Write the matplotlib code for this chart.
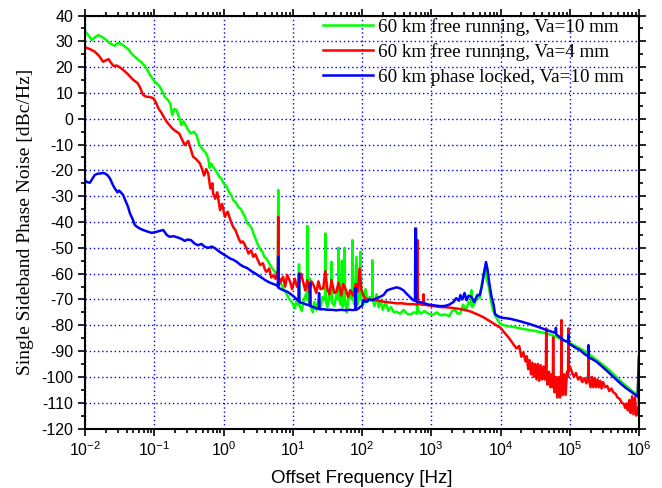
import numpy as np
import matplotlib
matplotlib.use('Agg')
import matplotlib.pyplot as plt
from matplotlib.ticker import MultipleLocator, LogLocator

# %% data: decade exponent of offset frequency, SSB phase noise [dBc/Hz]
green_dec = [-2.00, -1.97, -1.95, -1.90, -1.86, -1.81, -1.76, -1.71, -1.64, -1.57, -1.53, -1.49, -1.42, -1.37,
             -1.33, -1.28, -1.23, -1.18, -1.13, -1.09, -1.06, -0.99, -0.95, -0.92, -0.88, -0.85, -0.80, -0.77,
             -0.74, -0.71, -0.68, -0.64, -0.61, -0.58, -0.56, -0.52, -0.47, -0.43, -0.39, -0.35, -0.31, -0.26,
             -0.22, -0.20, -0.18, -0.14, -0.10, -0.06, -0.03, 0.00, 0.04, 0.08, 0.11, 0.14, 0.18, 0.21, 0.25,
             0.28, 0.31, 0.34, 0.37, 0.41, 0.44, 0.47, 0.50, 0.53, 0.56, 0.59, 0.62, 0.66, 0.69, 0.72, 0.76,
             0.785, 0.79, 0.795, 0.81, 0.84, 0.87, 0.91, 0.94, 0.97, 1.00,
             1.03, 1.06, 1.08, 1.09, 1.10, 1.13, 1.16, 1.19, 1.205, 1.21, 1.215, 1.24, 1.25, 1.26, 1.29, 1.31,
             1.34, 1.37, 1.40, 1.43, 1.465, 1.47, 1.475, 1.50, 1.53, 1.555, 1.56, 1.565, 1.60, 1.63, 1.655,
             1.66, 1.665, 1.69, 1.71, 1.72, 1.745, 1.75, 1.755, 1.78, 1.81, 1.855, 1.86, 1.865, 1.89, 1.92,
             1.935, 1.955, 1.98, 1.99, 2.02, 2.05, 2.08, 2.11, 2.145, 2.15, 2.155, 2.18, 2.21, 2.24, 2.27,
             2.30, 2.34, 2.38, 2.42, 2.46, 2.50, 2.55, 2.60, 2.65, 2.70, 2.75, 2.795, 2.80, 2.805, 2.85, 2.90,
             2.96, 3.02, 3.08, 3.13, 3.20, 3.26, 3.30, 3.34, 3.38, 3.42, 3.46, 3.50, 3.54, 3.575, 3.58, 3.59,
             3.63, 3.67, 3.70, 3.73, 3.76, 3.78, 3.80, 3.83, 3.86, 3.89, 3.92, 3.96, 4.00, 4.05, 4.10, 4.18,
             4.30, 4.43, 4.55, 4.67, 4.79, 4.91, 5.03, 5.15, 5.27, 5.39, 5.51, 5.63, 5.73, 5.82, 5.90, 5.98,
             6.00]
green_db = [34.0, 33.0, 32.2, 30.5, 31.5, 32.4, 31.8, 30.9, 29.2, 28.3, 29.3, 29.2, 27.9, 26.8,
            25.3, 24.0, 22.8, 21.8, 20.2, 18.5, 16.9, 14.3, 13.3, 12.4, 10.5, 8.5, 7.2, 6.0,
            1.4, 3.8, 3.4, 0.5, -2.4, -1.0, -1.8, -4.0, -5.7, -5.0, -6.3, -10.0, -11.5, -13.0,
            -15.4, -19.0, -17.3, -19.0, -20.5, -22.5, -23.2, -25.0, -26.0, -28.5, -29.5, -31.5, -32.5, -34.0, -35.0,
            -36.5, -38.0, -40.5, -41.0, -42.5, -45.0, -47.0, -49.0, -50.5, -51.5, -53.5, -54.1, -56.0, -57.4, -58.5, -60.0,
            -61.0, -27.6, -61.5, -62.5, -64.5, -66.0, -67.7, -69.5, -70.5, -71.5,
            -73.5, -70.0, -72.0, -56.4, -72.5, -74.5, -70.0, -68.0, -70.0, -41.5, -68.0, -72.0, -62.0, -73.0, -75.0, -71.0,
            -74.0, -70.0, -73.5, -69.0, -70.0, -44.4, -70.0, -73.0, -68.0, -70.0, -55.4, -71.0, -72.5, -68.0, -70.0,
            -50.0, -69.0, -72.0, -55.0, -73.0, -70.0, -50.0, -70.0, -75.0, -68.0, -70.0, -47.0, -69.0, -72.0, -53.5,
            -72.0, -69.0, -51.5, -70.0, -72.0, -66.0, -71.0, -69.0, -70.0, -54.8, -70.0, -72.5, -68.0, -73.0, -70.5,
            -74.0, -71.0, -74.5, -73.0, -75.0, -74.8, -75.5, -74.0, -75.5, -75.8, -75.0, -75.5, -47.0, -74.0, -75.5, -74.5,
            -75.5, -76.0, -75.0, -76.1, -75.8, -76.5, -74.5, -74.0, -75.5, -75.4, -72.0, -74.0, -71.0, -72.0, -66.4, -73.0,
            -71.5, -68.0, -69.5, -64.0, -60.0, -58.0, -62.0, -65.0, -70.0, -74.0, -76.0, -78.0, -79.5, -80.0, -80.3, -80.6,
            -81.3, -81.9, -82.5, -83.2, -84.3, -85.8, -87.3, -89.0, -91.0, -93.5, -96.0, -98.9, -101.5, -103.6, -105.5, -107.1,
            -93.0]

red_dec = [-2.00, -1.93, -1.86, -1.80, -1.74, -1.70, -1.66, -1.62, -1.59, -1.54, -1.49, -1.43, -1.37, -1.32,
           -1.28, -1.24, -1.21, -1.16, -1.12, -1.09, -1.05, -1.01, -0.97, -0.94, -0.90, -0.85, -0.81, -0.78,
           -0.73, -0.68, -0.64, -0.60, -0.56, -0.51, -0.47, -0.44, -0.40, -0.34, -0.31, -0.28, -0.25, -0.22,
           -0.19, -0.16, -0.15, -0.12, -0.09, -0.05, -0.02, 0.02, 0.06, 0.10, 0.14, 0.17, 0.19, 0.22, 0.25,
           0.28, 0.33, 0.36, 0.40, 0.43, 0.46, 0.50, 0.53, 0.57, 0.60, 0.62, 0.66, 0.69, 0.72, 0.75, 0.78,
           0.785, 0.79, 0.795, 0.82, 0.86, 0.89, 0.92, 0.96, 0.99, 1.03, 1.06, 1.09, 1.12, 1.15, 1.18, 1.21,
           1.24, 1.27, 1.30, 1.34, 1.37, 1.40, 1.44, 1.47, 1.50, 1.53, 1.56, 1.60, 1.63, 1.66, 1.70, 1.73,
           1.77, 1.80, 1.83, 1.87, 1.91, 1.94, 1.965, 1.99, 2.02, 2.06, 2.12, 2.18, 2.24, 2.30, 2.36, 2.42,
           2.50, 2.58, 2.66, 2.74, 2.795, 2.80, 2.805, 2.85, 2.885, 2.89, 2.895, 2.96, 3.04, 3.12, 3.20, 3.28,
           3.36, 3.44, 3.52, 3.58, 3.64, 3.70, 3.76, 3.82, 3.88, 3.94, 4.00, 4.06, 4.11, 4.15, 4.19, 4.23,
           4.27, 4.30, 4.33, 4.36, 4.38, 4.40, 4.42, 4.44, 4.46, 4.48, 4.50, 4.52, 4.54, 4.56, 4.58, 4.60,
           4.62, 4.64, 4.655, 4.66, 4.665, 4.68, 4.70, 4.72, 4.74, 4.755, 4.76, 4.765, 4.78, 4.80, 4.82, 4.84,
           4.86, 4.875, 4.88, 4.885, 4.90, 4.92, 4.94, 4.96, 4.975, 4.98, 4.985, 5.00, 5.03, 5.06, 5.09, 5.12,
           5.15, 5.18, 5.21, 5.24, 5.265, 5.27, 5.275, 5.30, 5.32, 5.34, 5.36, 5.38, 5.40, 5.42, 5.44, 5.46,
           5.48, 5.51, 5.54, 5.57, 5.60, 5.63, 5.66, 5.69, 5.72, 5.75, 5.78, 5.80, 5.82, 5.84, 5.86, 5.88,
           5.90, 5.92, 5.94, 5.96, 5.98, 5.995, 6.00]
red_db = [27.7, 27.0, 26.0, 24.5, 22.1, 22.6, 23.1, 21.5, 20.5, 20.6, 19.8, 18.5, 17.0, 15.5,
          14.6, 13.8, 12.4, 9.2, 8.6, 8.5, 8.3, 7.9, 6.0, 4.0, 2.5, 0.1, -1.5, -2.5,
          -4.0, -5.0, -5.7, -8.0, -10.2, -8.6, -12.0, -14.7, -15.5, -17.3, -19.5, -22.0, -19.5, -21.2,
          -27.0, -25.0, -29.0, -31.0, -28.5, -35.4, -33.0, -38.0, -36.0, -39.3, -42.0, -43.0, -44.4, -46.5, -48.0,
          -47.5, -50.0, -52.2, -51.0, -53.5, -52.5, -55.0, -56.7, -56.0, -58.5, -59.3, -58.0, -61.5, -60.6, -62.0, -59.5,
          -62.0, -38.0, -61.0, -63.5, -61.2, -65.0, -60.5, -63.0, -66.0, -62.0, -65.1, -63.5, -60.0, -63.2, -66.5, -62.5,
          -67.0, -63.0, -64.4, -67.5, -63.0, -66.0, -65.7, -59.0, -66.0, -68.0, -62.5, -67.5, -67.0, -63.5, -68.5, -64.0,
          -66.5, -69.0, -66.4, -68.5, -64.0, -67.0, -58.0, -66.0, -68.5, -70.0, -70.3, -70.0, -70.5, -70.8, -71.0, -71.2,
          -71.5, -71.5, -71.8, -71.8, -72.0, -47.0, -71.5, -72.0, -72.0, -68.0, -72.0, -72.3, -72.6, -72.9, -73.0, -73.2,
          -73.5, -73.8, -74.3, -74.8, -75.5, -76.2, -77.0, -78.0, -79.0, -80.0, -81.0, -83.0, -84.5, -86.0, -87.5, -89.0,
          -88.0, -92.2, -90.5, -94.0, -92.0, -97.0, -93.5, -99.0, -94.5, -100.0, -95.0, -101.0, -95.0, -101.5, -95.5, -101.0,
          -96.0, -101.0, -96.0, -81.2, -97.0, -103.0, -98.0, -104.0, -99.0, -104.0, -84.7, -100.0, -106.0, -100.0, -108.0, -100.0,
          -108.0, -99.0, -78.0, -98.0, -107.0, -99.0, -107.0, -98.0, -100.0, -81.2, -98.0, -96.0, -98.0, -100.0, -98.5, -101.0,
          -100.0, -102.0, -100.5, -102.5, -100.0, -90.3, -101.0, -104.0, -100.0, -104.0, -100.5, -104.0, -101.0, -104.0, -101.5, -104.5,
          -102.0, -104.0, -103.5, -105.5, -104.5, -106.0, -106.5, -108.0, -108.5, -110.0, -110.5, -112.0, -110.3, -113.0, -109.0, -114.0,
          -107.5, -114.5, -108.0, -115.0, -112.0, -113.5, -92.0]

blue_dec = [-2.00, -1.97, -1.93, -1.90, -1.86, -1.82, -1.78, -1.74, -1.71, -1.67, -1.64, -1.60, -1.57, -1.53,
            -1.51, -1.49, -1.45, -1.42, -1.38, -1.35, -1.31, -1.28, -1.23, -1.18, -1.12, -1.04, -1.00, -0.97,
            -0.92, -0.87, -0.82, -0.78, -0.72, -0.66, -0.61, -0.56, -0.52, -0.47, -0.42, -0.37, -0.32, -0.27,
            -0.22, -0.17, -0.12, -0.06, 0.00, 0.05, 0.10, 0.14, 0.19, 0.24, 0.29, 0.34, 0.38, 0.43, 0.48,
            0.53, 0.57, 0.62, 0.67, 0.72, 0.77, 0.785, 0.79, 0.795, 0.83, 0.87, 0.92, 0.96, 1.01, 1.06,
            1.085, 1.09, 1.095, 1.15, 1.20, 1.245, 1.25, 1.255, 1.30, 1.35, 1.375, 1.38, 1.385, 1.45, 1.50,
            1.56, 1.63, 1.70, 1.76, 1.82, 1.87, 1.905, 1.91, 1.915, 1.95, 1.97, 2.00, 2.02, 2.06, 2.10,
            2.16, 2.21, 2.26, 2.31, 2.36, 2.41, 2.45, 2.50, 2.55, 2.60, 2.64, 2.69, 2.74, 2.765, 2.77, 2.78,
            2.785, 2.83, 2.88, 2.96, 3.04, 3.13, 3.20, 3.26, 3.32, 3.36, 3.40, 3.42, 3.45, 3.48, 3.51, 3.54,
            3.58, 3.62, 3.66, 3.70, 3.73, 3.76, 3.79, 3.81, 3.84, 3.87, 3.90, 3.92, 3.94, 4.00, 4.14, 4.29,
            4.43, 4.55, 4.67, 4.795, 4.80, 4.805, 4.91, 4.975, 4.98, 4.985, 5.07, 5.15, 5.22, 5.265, 5.27,
            5.275, 5.33, 5.39, 5.51, 5.63, 5.73, 5.82, 5.90, 5.98, 6.00]
blue_db = [-24.0, -24.5, -24.8, -23.5, -21.8, -21.3, -21.2, -21.0, -21.2, -22.0, -23.1, -25.5, -27.0, -28.5,
           -27.8, -28.3, -29.5, -31.5, -34.0, -36.7, -39.0, -41.2, -42.2, -42.9, -43.5, -44.2, -44.0, -43.8,
           -43.5, -43.1, -45.0, -45.7, -45.5, -46.0, -46.5, -47.3, -46.8, -47.0, -48.3, -49.0, -48.5, -49.6,
           -50.0, -49.5, -50.2, -51.5, -52.5, -53.3, -54.2, -54.6, -55.4, -56.5, -57.3, -57.8, -58.6, -59.5, -60.3,
           -61.2, -61.9, -62.8, -63.5, -64.0, -64.5, -65.0, -53.5, -65.5, -66.0, -66.5, -67.0, -67.7, -68.8, -70.0,
           -70.5, -60.0, -71.0, -71.5, -72.0, -72.3, -63.7, -72.5, -73.0, -73.5, -73.5, -67.5, -73.8, -73.8, -74.0,
           -74.0, -74.2, -74.0, -74.2, -74.0, -74.1, -74.0, -65.6, -74.0, -73.5, -72.9, -72.5, -70.3, -71.0, -70.0,
           -70.3, -69.5, -69.0, -68.3, -66.5, -66.0, -65.7, -65.3, -65.7, -66.5, -67.7, -69.0, -70.3, -70.5, -42.5, -42.5,
           -70.8, -71.0, -71.3, -72.0, -72.3, -72.6, -72.5, -72.0, -71.0, -69.5, -70.5, -68.3, -70.0, -67.5, -70.3, -68.5,
           -69.0, -71.0, -68.5, -68.3, -65.0, -60.0, -55.5, -58.0, -64.0, -69.0, -72.0, -75.5, -76.1, -77.0, -77.5, -78.5,
           -79.6, -80.7, -81.9, -83.0, -81.0, -83.5, -85.8, -86.5, -83.8, -87.0, -88.5, -89.7, -91.3, -92.0, -87.7,
           -92.5, -93.2, -94.2, -97.0, -100.0, -102.5, -104.5, -106.0, -107.7, -92.2]

labels = ['60 km free running, Va=10 mm', '60 km free running, Va=4 mm', '60 km phase locked, Va=10 mm']
colors = ['#00ff00', '#ff0000', '#0000ff']

# %% plot
plt.rcParams['font.family'] = ['Liberation Sans', 'DejaVu Sans']
plt.rcParams['mathtext.default'] = 'regular'
plt.rcParams['axes.unicode_minus'] = False

fig = plt.figure(figsize=(6.62, 4.88), dpi=100)
ax = fig.add_axes([0.1284, 0.1219, 0.8369, 0.8463])

for dec, db, lab, c in zip([green_dec, red_dec, blue_dec], [green_db, red_db, blue_db], labels, colors):
    ax.plot(10 ** np.array(dec), db, color=c, lw=1.8, label=lab)

ax.set_xscale('log')
ax.set_xlim(1e-2, 1e6)
ax.set_ylim(-120, 40)
ax.yaxis.set_major_locator(MultipleLocator(10))
ax.yaxis.set_minor_locator(MultipleLocator(5))
ax.xaxis.set_major_locator(LogLocator(base=10, numticks=20))
ax.xaxis.set_minor_locator(LogLocator(base=10, subs=np.arange(2, 10), numticks=20))

ax.grid(True, which='major', color='#0000ff', linestyle=(0, (1, 2)), lw=1)
ax.tick_params(which='both', direction='out', top=True, right=True, width=1.2, labelsize=11.5)
ax.tick_params(which='major', length=5)
ax.tick_params(which='minor', length=3)
for s in ax.spines.values():
    s.set_linewidth(1.5)

ax.set_xlabel('Offset Frequency [Hz]', fontsize=13.5, labelpad=8)
ax.set_ylabel('Single Sideband Phase Noise [dBc/Hz]', fontsize=14, family='Liberation Serif', labelpad=5)

ax.legend(loc='upper right', bbox_to_anchor=(0.975, 0.998), frameon=False,
          prop={'family': 'Liberation Serif', 'size': 13.8},
          handlelength=2.6, handletextpad=0.25, labelspacing=0.37, borderaxespad=0.0, borderpad=0.1)

fig.savefig('out.png', dpi=100)
